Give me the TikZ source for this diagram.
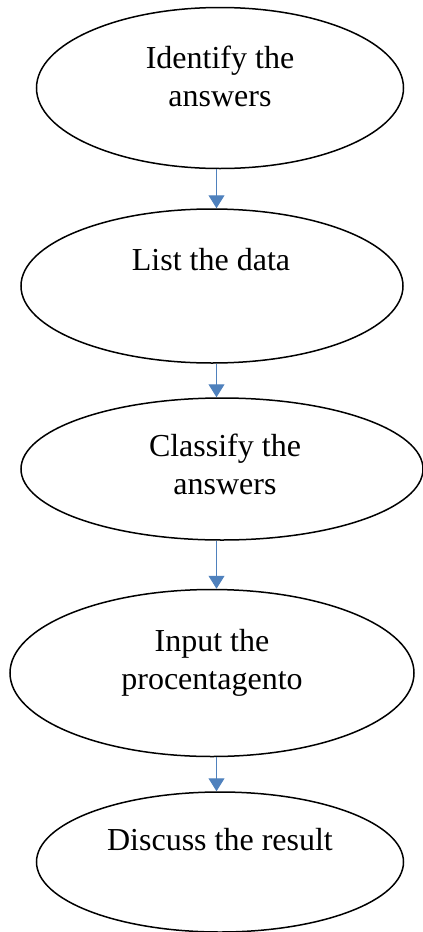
\documentclass[tikz,border=0pt]{standalone}
\usepackage{fontspec}
\setmainfont{Liberation Serif}
\usetikzlibrary{shapes.geometric,arrows.meta}
\definecolor{arrowblue}{RGB}{79,129,189}
\tikzstyle{stepoval} = [draw=black, line width=1.5pt, ellipse, inner sep=0pt]
\tikzstyle{steptext} = [font=\fontsize{32}{38}\selectfont, align=center,
    inner sep=0pt, anchor=north]
\tikzstyle{flowarrow} = [draw=arrowblue, line width=1pt,
    -{Triangle[width=16pt,length=13pt,fill=arrowblue]}]

\begin{document}
\begin{tikzpicture}[x=1pt,y=-1pt]
                \useasboundingbox (0,0) rectangle (423,932);
                % ovals
                \node [stepoval, minimum width=367pt, minimum height=161pt] (oval1) at (220,88) {};
                \node [stepoval, minimum width=382pt, minimum height=154pt] (oval2) at (212,286) {};
                \node [stepoval, minimum width=402pt, minimum height=142pt] (oval3) at (222,469) {};
                \node [stepoval, minimum width=404pt, minimum height=167pt] (oval4) at (212,673) {};
                \node [stepoval, minimum width=367pt, minimum height=140pt] (oval5) at (220,862) {};
                % texts
                \node [steptext] (text1) at (220,46) {Identify the\\answers};
                \node [steptext] (text2) at (211,248) {List the data};
                \node [steptext] (text3) at (225,434) {Classify the\\answers};
                \node [steptext] (text4) at (212,629) {Input the\\procentagento};
                \node [steptext] (text5) at (220,828) {Discuss the result};
                % arrows, all on one vertical line
                \coordinate (axis) at (216.5,0);
                \draw [flowarrow] (oval1.south -| axis) -- (oval2.north -| axis);
                \draw [flowarrow] (oval2.south -| axis) -- (oval3.north -| axis);
                \draw [flowarrow] (oval3.south -| axis) -- (oval4.north -| axis);
                \draw [flowarrow] (oval4.south -| axis) -- (oval5.north -| axis);
            \end{tikzpicture}
\end{document}
